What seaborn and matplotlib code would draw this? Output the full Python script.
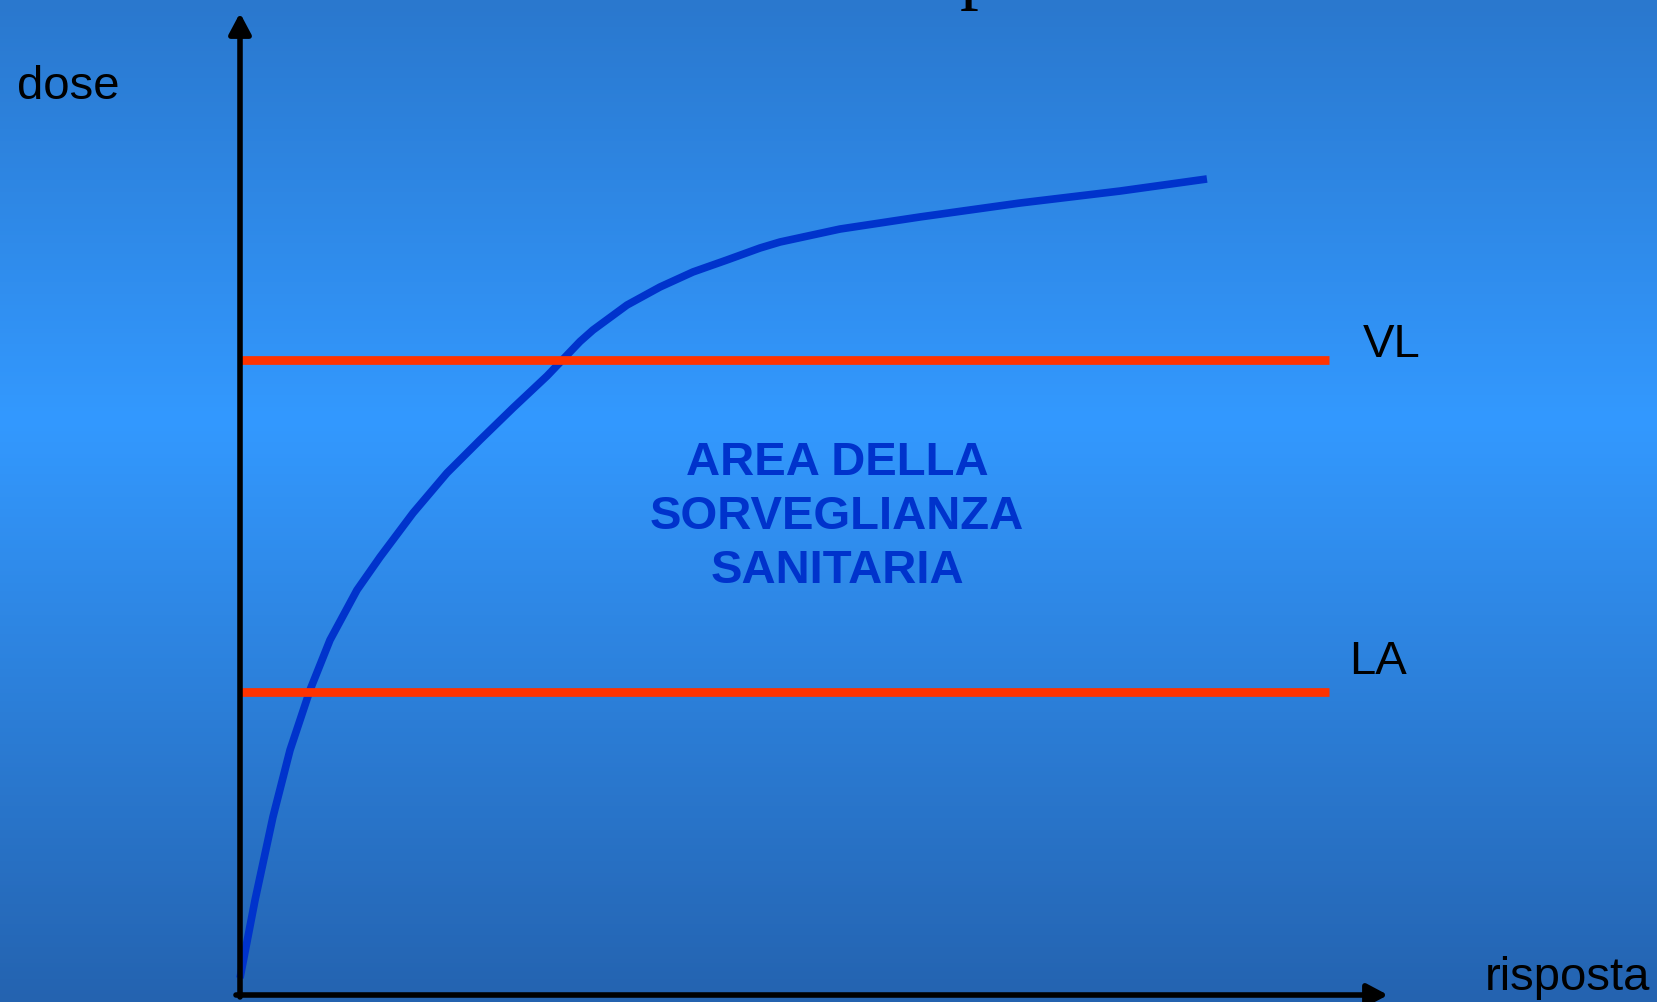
import numpy as np
import pandas as pd
import matplotlib
matplotlib.use("Agg")
import matplotlib.pyplot as plt
from matplotlib.colors import LinearSegmentedColormap
import seaborn as sns

# dose-risposta curve (axis units 0..100)
risposta = [0.0, 1.31, 2.87, 4.36, 6.10, 7.84, 10.19, 12.20, 15.07, 18.03, 20.91,
            23.78, 26.74, 29.62, 30.75, 32.23, 33.71, 36.59, 39.46, 42.42, 45.30,
            47.04, 52.26, 59.23, 67.94, 76.66, 84.23]
dose = [1.73, 9.67, 18.13, 24.95, 31.06, 36.15, 41.24, 44.60, 49.08, 53.16, 56.52,
        59.78, 63.03, 66.55, 67.72, 68.99, 70.26, 72.10, 73.63, 74.85, 76.07,
        76.68, 78.00, 79.23, 80.65, 81.87, 83.10]

# threshold lines
soglie = ["VL", "LA"]
soglie_y = [64.7, 30.9]
soglie_fine = 94.9

area_label = "AREA DELLA\nSORVEGLIANZA\nSANITARIA"

sns.set_theme(style="white")
plt.rcParams['font.family'] = ['Liberation Sans', 'DejaVu Sans']

fig = plt.figure(figsize=(16.57, 10.02), dpi=100)

# background gradient (slide style)
bg = fig.add_axes([0, 0, 1, 1])
cmap = LinearSegmentedColormap.from_list(
    "slide", [(0.0, "#2A78CE"), (0.42, "#3399FF"), (1.0, "#2463B0")])
grad = np.linspace(0, 1, 256).reshape(-1, 1)
bg.imshow(grad, aspect="auto", cmap=cmap, extent=[0, 1, 0, 1], origin="upper")
bg.set_axis_off()

ax = fig.add_axes([240 / 1657, 7 / 1002, 1148 / 1657, 982 / 1002])
ax.patch.set_alpha(0)
ax.set_xlim(0, 100)
ax.set_ylim(0, 100)
ax.set_axis_off()

df = pd.DataFrame({"risposta": risposta, "dose": dose})
sns.lineplot(data=df, x="risposta", y="dose", ax=ax, color="#0033CC",
             linewidth=5.5, sort=False, estimator=None,
             solid_capstyle="butt", solid_joinstyle="round", clip_on=False)

ax.hlines(soglie_y, 0.1, soglie_fine, colors="#FF3300", linewidth=6.3,
          capstyle="butt", clip_on=False)

# axes with arrows
arrow = dict(arrowstyle="-|>,head_length=0.62,head_width=0.33", color="black",
             lw=4, mutation_scale=20, shrinkA=0, shrinkB=0)
ax.annotate("", xy=(100, 0), xytext=(-0.35, 0), arrowprops=arrow, annotation_clip=False)
ax.annotate("", xy=(0, 100), xytext=(0, -0.2), arrowprops=arrow, annotation_clip=False)

ax.text(-19.4, 91.2, "dose", fontsize=34, color="black", va="baseline", ha="left", clip_on=False)
ax.text(108.4, 0.5, "risposta", fontsize=34, color="black", va="baseline", ha="left", clip_on=False)
ax.text(97.8, 65.0, soglie[0], fontsize=34, color="black", va="baseline", ha="left", clip_on=False)
ax.text(96.6, 32.7, soglie[1], fontsize=34, color="black", va="baseline", ha="left", clip_on=False)

ax.text(52.0, 48.7, area_label, fontsize=34, fontweight="bold", color="#0033CC",
        ha="center", va="center", linespacing=1.3, multialignment="center")

# bottom of the slide title, cut off by the top edge
fig.text(960 / 1657, 1.0 + 5 / 1002, "p", fontsize=54, family="Liberation Serif",
         color="black", ha="left", va="baseline")

fig.savefig("out.png", dpi=100)
